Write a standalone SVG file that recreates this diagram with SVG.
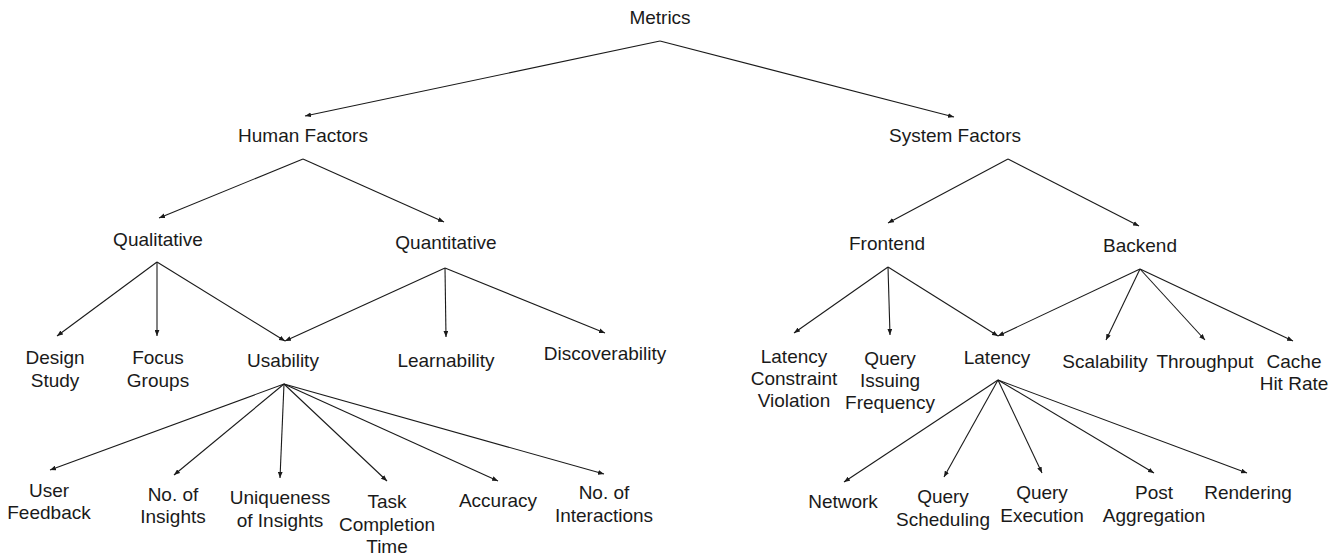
<svg xmlns="http://www.w3.org/2000/svg" width="1343" height="557" viewBox="0 0 1343 557">
<style>
text{font-family:"Liberation Sans",Arial,sans-serif;font-size:19px;fill:#1a1a1a;text-anchor:middle}
.e{stroke:#1a1a1a;stroke-width:1.1;fill:none;marker-end:url(#ah)}
</style>
<defs>
<marker id="ah" viewBox="0 0 10 8" refX="10" refY="4" markerWidth="6" markerHeight="5" markerUnits="userSpaceOnUse" orient="auto">
<path d="M0,0 L10,4 L0,8 z" fill="#1a1a1a"/>
</marker>
</defs>
<g id="connectors">
<line class="e" x1="660" y1="41" x2="305" y2="116"/>
<line class="e" x1="660" y1="41" x2="954" y2="117"/>
<line class="e" x1="303" y1="159" x2="159" y2="218"/>
<line class="e" x1="303" y1="159" x2="444" y2="222"/>
<line class="e" x1="1008" y1="159" x2="888" y2="223"/>
<line class="e" x1="1008" y1="159" x2="1139" y2="226"/>
<line class="e" x1="157" y1="262" x2="57" y2="336"/>
<line class="e" x1="157" y1="262" x2="157" y2="336"/>
<line class="e" x1="157" y1="262" x2="285" y2="341"/>
<line class="e" x1="445" y1="268" x2="285" y2="341"/>
<line class="e" x1="445" y1="268" x2="446" y2="337"/>
<line class="e" x1="445" y1="268" x2="605" y2="333"/>
<line class="e" x1="888" y1="267" x2="794" y2="333"/>
<line class="e" x1="888" y1="267" x2="890" y2="335"/>
<line class="e" x1="888" y1="267" x2="998" y2="336"/>
<line class="e" x1="1140" y1="269" x2="998" y2="336"/>
<line class="e" x1="1140" y1="269" x2="1106" y2="340"/>
<line class="e" x1="1140" y1="269" x2="1205" y2="340"/>
<line class="e" x1="1140" y1="269" x2="1293" y2="341"/>
<line class="e" x1="284" y1="384" x2="50" y2="470"/>
<line class="e" x1="284" y1="384" x2="174" y2="475"/>
<line class="e" x1="284" y1="384" x2="280" y2="478"/>
<line class="e" x1="284" y1="384" x2="387" y2="481"/>
<line class="e" x1="284" y1="384" x2="498" y2="481"/>
<line class="e" x1="284" y1="384" x2="604" y2="474"/>
<line class="e" x1="998" y1="380" x2="844" y2="482"/>
<line class="e" x1="998" y1="380" x2="944" y2="477"/>
<line class="e" x1="998" y1="380" x2="1042" y2="473"/>
<line class="e" x1="998" y1="380" x2="1154" y2="473"/>
<line class="e" x1="998" y1="380" x2="1247" y2="473"/>
</g>
<g id="metrics"><text x="660" y="24">Metrics</text></g>
<g id="human-factors"><text x="303" y="142">Human Factors</text></g>
<g id="system-factors"><text x="955" y="142">System Factors</text></g>
<g id="qualitative"><text x="158" y="246">Qualitative</text></g>
<g id="quantitative"><text x="446" y="249">Quantitative</text></g>
<g id="frontend"><text x="887" y="250">Frontend</text></g>
<g id="backend"><text x="1140" y="252">Backend</text></g>
<g id="design-study"><text x="55" y="364">Design</text><text x="55" y="387">Study</text></g>
<g id="focus-groups"><text x="158" y="364">Focus</text><text x="158" y="387">Groups</text></g>
<g id="usability"><text x="283" y="367">Usability</text></g>
<g id="learnability"><text x="446" y="367">Learnability</text></g>
<g id="discoverability"><text x="605" y="360">Discoverability</text></g>
<g id="latency-constraint"><text x="794" y="363">Latency</text><text x="794" y="385">Constraint</text><text x="794" y="407">Violation</text></g>
<g id="query-issuing"><text x="890" y="365">Query</text><text x="890" y="387">Issuing</text><text x="890" y="409">Frequency</text></g>
<g id="latency"><text x="997" y="364">Latency</text></g>
<g id="scalability"><text x="1105" y="368">Scalability</text></g>
<g id="throughput"><text x="1205" y="368">Throughput</text></g>
<g id="cache-hit-rate"><text x="1294" y="368">Cache</text><text x="1294" y="390">Hit Rate</text></g>
<g id="user-feedback"><text x="49" y="497">User</text><text x="49" y="519">Feedback</text></g>
<g id="no-insights"><text x="173" y="501">No. of</text><text x="173" y="523">Insights</text></g>
<g id="uniqueness"><text x="280" y="504">Uniqueness</text><text x="280" y="527">of Insights</text></g>
<g id="task-completion"><text x="387" y="508">Task</text><text x="387" y="531">Completion</text><text x="387" y="553">Time</text></g>
<g id="accuracy"><text x="498" y="507">Accuracy</text></g>
<g id="no-interactions"><text x="604" y="499">No. of</text><text x="604" y="522">Interactions</text></g>
<g id="network"><text x="843" y="508">Network</text></g>
<g id="query-scheduling"><text x="943" y="503">Query</text><text x="943" y="526">Scheduling</text></g>
<g id="query-execution"><text x="1042" y="499">Query</text><text x="1042" y="522">Execution</text></g>
<g id="post-aggregation"><text x="1154" y="499">Post</text><text x="1154" y="522">Aggregation</text></g>
<g id="rendering"><text x="1248" y="499">Rendering</text></g>
</svg>
